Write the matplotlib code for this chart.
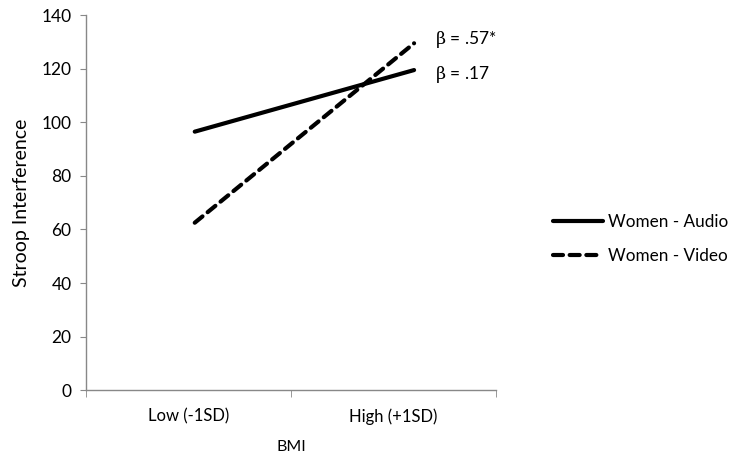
import matplotlib.pyplot as plt
import numpy as np

plt.rcParams['font.family'] = ['Lato', 'DejaVu Sans']
plt.rcParams['mathtext.fontset'] = 'custom'
plt.rcParams['mathtext.it'] = 'DejaVu Serif'
plt.rcParams['mathtext.rm'] = 'DejaVu Serif'

categories = ['Low (-1SD)', 'High (+1SD)']
line_x = [0.03, 1.1]
audio = [96.5, 119.5]
video = [62.5, 129.5]
yticks = [0, 20, 40, 60, 80, 100, 120, 140]
beta_labels = ['.57*', '.17']

fig = plt.figure(dpi=100, figsize=(7.36, 4.59))
ax = fig.add_axes([0.117, 0.150, 0.557, 0.817])

ax.plot(line_x, audio, color='black', linewidth=3, solid_capstyle='round', label='Women - Audio')
ax.plot(line_x, video, color='black', linewidth=3, linestyle=(0, (2.4, 1.6)),
        dash_capstyle='round', label='Women - Video')

ax.set_xlim(-0.5, 1.5)
ax.set_ylim(0, 140)
ax.set_yticks(yticks)
ax.set_xticks([0, 1])
ax.set_xticklabels(categories)
ax.set_xticks([-0.5, 0.5, 1.5], minor=True)
ax.tick_params(axis='x', which='major', length=0, pad=13, labelsize=12)
ax.tick_params(axis='x', which='minor', length=5, color='#888888', direction='out')
ax.tick_params(axis='y', length=4.5, color='#888888', labelsize=12.5, pad=6)

for s in ['top', 'right']:
    ax.spines[s].set_visible(False)
for s in ['left', 'bottom']:
    ax.spines[s].set_color('#888888')
    ax.spines[s].set_linewidth(1)

ax.set_ylabel('Stroop Interference', fontsize=14, labelpad=8)
ax.set_xlabel('BMI', fontsize=11.5, labelpad=11)

# beta labels next to the line ends
ax.text(1.2, video[1] + 1.5, r'$\beta$' + ' = ' + beta_labels[0], fontsize=12.5, va='center', ha='left')
ax.text(1.2, audio[1] - 1.5, r'$\beta$' + ' = ' + beta_labels[1], fontsize=12.5, va='center', ha='left')

fig.legend(loc='center left', bbox_to_anchor=(0.731, 0.48), frameon=False, fontsize=12.3,
           handlelength=2.9, labelspacing=1.05, handletextpad=0.3)

fig.savefig('out.png', dpi=100)
